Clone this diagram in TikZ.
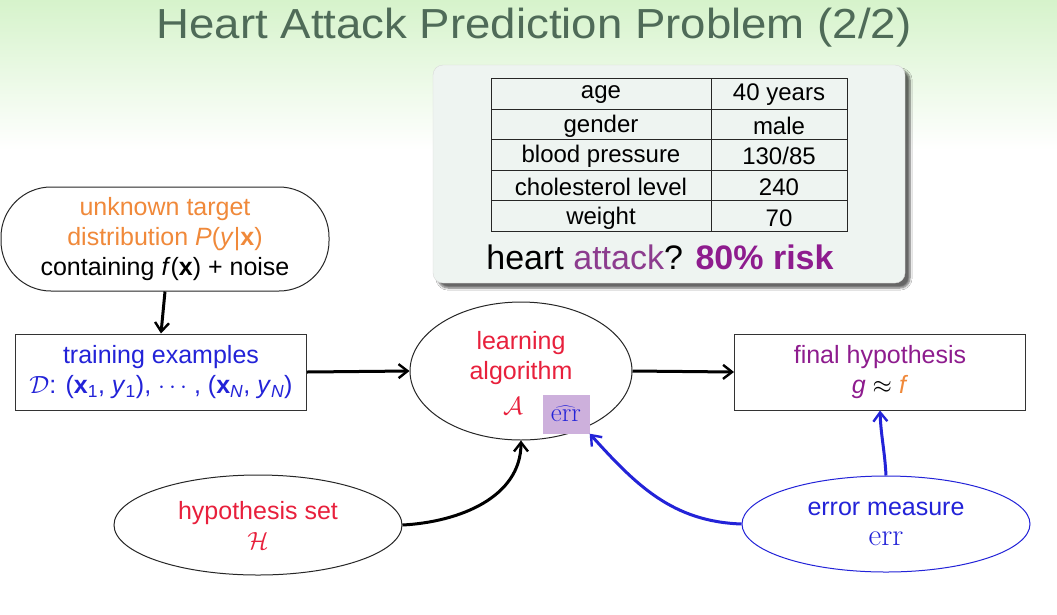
\documentclass[tikz,border=0pt]{standalone}
\usepackage[no-math]{fontspec}
\setmainfont{Liberation Sans}
\usetikzlibrary{arrows.meta,shapes.geometric,shadows.blur}
\definecolor{ttl}{HTML}{4F6B58}
\definecolor{bggreen}{HTML}{D6F3CB}
\definecolor{orng}{HTML}{F0893A}
\definecolor{bl}{HTML}{2323D8}
\definecolor{rd}{HTML}{E8203C}
\definecolor{prp}{HTML}{8E1C8E}
\definecolor{prpl}{HTML}{8C3C8E}
\definecolor{panel}{HTML}{EEF4F1}
\definecolor{errbox}{HTML}{CDB0DC}
\tikzset{
  body/.style={font=\fontsize{25}{30}\selectfont, align=center, inner sep=0pt},
  boxnode/.style={body, draw=black!80, line width=1pt, rectangle, minimum width=291pt, minimum height=76pt},
  ellnode/.style={body, draw=black!85, line width=1pt, ellipse},
  cell/.style={font=\fontsize{24}{28}\selectfont, inner sep=0pt, anchor=center},
  flow/.style={line width=3pt, -{Straight Barb[length=9pt,width=14pt,line width=2.4pt]}},
  bflow/.style={flow, draw=bl}
}
\begin{document}
\begin{tikzpicture}[x=1pt,y=-1pt]
\useasboundingbox (0,0) rectangle (1057,614);
\fill[white] (0,0) rectangle (1057,614);
\shade[top color=bggreen, bottom color=white] (0,0) rectangle (1057,150);
\node[font=\fontsize{42}{48}\selectfont, text=ttl, inner sep=0pt] (title) at (534,28) {\scalebox{1.085}[1]{Heart Attack Prediction Problem (2/2)}};

% panel
\node[draw=black!15, fill=panel, rounded corners=10pt, minimum width=472pt, minimum height=218pt,
      blur shadow={shadow xshift=5pt, shadow yshift=-5pt, shadow blur steps=6, shadow opacity=60}] (panel) at (669,174) {};
\draw[line width=1pt, black!85] (491,78) rectangle (847,231);
\draw[line width=1pt, black!85] (711,78) -- (711,231);
\foreach \yy in {109,139,170,200} \draw[line width=1pt, black!85] (491,\yy) -- (847,\yy);
\node[cell] (c11) at (601,95) {age};
\node[cell] (c12) at (779,95) {40 years};
\node[cell] (c21) at (601,126) {gender};
\node[cell] (c22) at (779,126) {male};
\node[cell] (c31) at (601,156) {blood pressure};
\node[cell] (c32) at (779,156) {130/85};
\node[cell] (c41) at (601,187) {cholesterol level};
\node[cell] (c42) at (779,187) {240};
\node[cell] (c51) at (601,218) {weight};
\node[cell] (c52) at (779,218) {70};
\node[font=\fontsize{34}{40}\selectfont, inner sep=0pt] (risk) at (660,257) {heart \textcolor{prpl}{attack}? \textcolor{prp}{\textbf{80\% risk}}};

% nodes
\node[body, draw=black!85, line width=1pt, rectangle, rounded corners=50pt, minimum width=328pt, minimum height=104pt] (target) at (165,239)
  {\textcolor{orng}{unknown target}\\ \textcolor{orng}{distribution \textit{P}(\textit{y}|\textbf{x})}\\ containing \textit{f}(\textbf{x}) + noise};
\node[boxnode] (train) at (161,372)
  {\textcolor{bl}{training examples}\\ \textcolor{bl}{$\mathcal{D}$: (\textbf{x}\textsubscript{1}, \textit{y}\textsubscript{1}), $\cdots$ , (\textbf{x}\textsubscript{\textit{N}}, \textit{y}\textsubscript{\textit{N}})}};
\node[ellnode, minimum width=222pt, minimum height=138pt] (learn) at (521,371) {};
\node[body, text=rd] (learntxt) at (521,358) {learning\\ algorithm};
\node[body, text=rd] (calA) at (513,406) {$\mathcal{A}$};
\node[fill=errbox, minimum width=47pt, minimum height=39pt, inner sep=0pt, text=bl, font=\fontsize{20}{24}\selectfont] (ehat) at (566,414) {\scalebox{1.3}{$\widehat{\mathrm{err}}$}};
\node[boxnode] (final) at (880,372)
  {\textcolor{prp}{final hypothesis}\\ \textcolor{prp}{\textit{g}} $\approx$ \textcolor{orng}{\textit{f}}};
\node[ellnode, minimum width=288pt, minimum height=100pt] (hset) at (258,525)
  {\textcolor{rd}{hypothesis set}\\ \textcolor{rd}{$\mathcal{H}$}};
\node[ellnode, draw=bl, minimum width=288pt, minimum height=96pt] (emeas) at (886,524)
  {\textcolor{bl}{error measure}\\ \textcolor{bl}{\scalebox{1.25}{$\mathrm{err}$}}};

% connectors
\draw[flow] (target.south) -- (train.north);
\draw[flow] (train.east) -- (learn.west);
\draw[flow] (learn.east) -- (final.west);
\draw[flow] (hset.east) to[out=3, in=-90] (learn.south);
\draw[bflow] (emeas.west) to[out=178, in=-48] (ehat.south east);
\draw[bflow] (emeas.north) to[out=93, in=-88] (final.south);
\end{tikzpicture}
\end{document}
